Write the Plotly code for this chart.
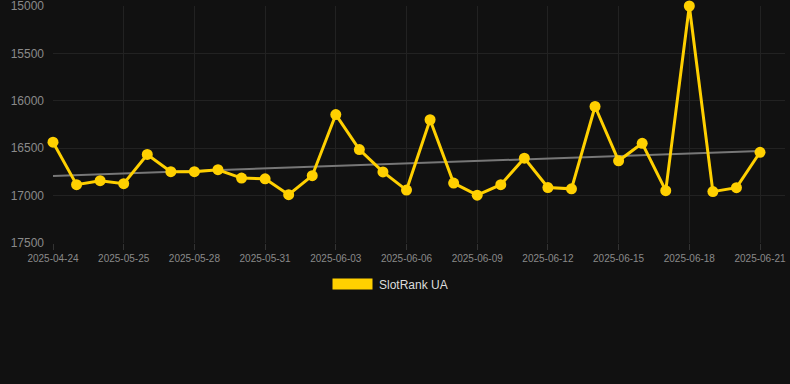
import numpy as np
import plotly.graph_objects as go

dates = ["2025-04-24", "2025-05-23", "2025-05-24", "2025-05-25", "2025-05-26", "2025-05-27",
         "2025-05-28", "2025-05-29", "2025-05-30", "2025-05-31", "2025-06-01", "2025-06-02",
         "2025-06-03", "2025-06-04", "2025-06-05", "2025-06-06", "2025-06-07", "2025-06-08",
         "2025-06-09", "2025-06-10", "2025-06-11", "2025-06-12", "2025-06-13", "2025-06-14",
         "2025-06-15", "2025-06-16", "2025-06-17", "2025-06-18", "2025-06-19", "2025-06-20",
         "2025-06-21"]
rank = [16437, 16885, 16843, 16874, 16566, 16748, 16748, 16727, 16815, 16823, 16990, 16790,
        16145, 16514, 16750, 16942, 16200, 16868, 16995, 16885, 16605, 16915, 16929, 16060,
        16633, 16448, 16948, 15000, 16958, 16916, 16543]
y_ticks = [15000, 15500, 16000, 16500, 17000, 17500]
y_tick_labels = ["15000", "15500", "16000", "16500", "17000", "17500"]
series_name = "SlotRank UA"

idx = np.arange(len(dates))
slope, intercept = np.polyfit(idx, rank, 1)
trend = slope * idx + intercept

YELLOW = "#FFD000"
BG = "#111111"
GRID = "#222222"
TXT = "#8a8a8a"
FONT = "Arial, Liberation Sans, sans-serif"

fig = go.Figure()
fig.add_trace(go.Scatter(x=idx, y=trend, mode="lines",
                         line=dict(color="#777777", width=2), hoverinfo="skip",
                         showlegend=False))
fig.add_trace(go.Scatter(x=idx, y=rank, mode="lines+markers", name=series_name,
                         line=dict(color=YELLOW, width=3),
                         marker=dict(color=YELLOW, size=11),
                         cliponaxis=False, showlegend=False))

tick_idx = list(range(0, len(dates), 3))
fig.update_xaxes(range=[0, 31.06], tickvals=tick_idx, ticktext=[dates[i] for i in tick_idx],
                 showgrid=True, gridcolor=GRID, gridwidth=1, zeroline=False,
                 ticks="outside", ticklen=6, tickcolor="#333333", automargin=False,
                 ticklabeloverflow="allow",
                 tickfont=dict(family=FONT, size=10, color=TXT),
                 showline=False)
fig.update_yaxes(range=[17500, 15000], tickvals=y_ticks, ticktext=y_tick_labels,
                 showgrid=True, gridcolor=GRID, gridwidth=1, zeroline=False,
                 ticklabelstandoff=8, automargin=False, ticklabeloverflow="allow",
                 tickfont=dict(family=FONT, size=12, color=TXT),
                 showline=False)

# legend swatch and label
fig.add_shape(type="rect", xref="paper", yref="paper",
              x0=(332.5 - 53) / 732, x1=(372.5 - 53) / 732,
              y0=(243 - 289.5) / 237, y1=(243 - 278.5) / 237,
              fillcolor=YELLOW, line=dict(width=0))
fig.add_annotation(xref="paper", yref="paper", x=(377 - 53) / 732, y=(243 - 284.5) / 237,
                   text=series_name, showarrow=False, xanchor="left", yanchor="middle",
                   font=dict(family=FONT, size=12, color="#dddddd"))

fig.update_layout(width=790, height=384, paper_bgcolor=BG, plot_bgcolor=BG,
                  margin=dict(l=53, r=5, t=6, b=141), showlegend=False)

fig.write_html("out.html", config={"displayModeBar": False},
               post_script="document.body.style.margin='0';document.body.style.background='#111111';")
